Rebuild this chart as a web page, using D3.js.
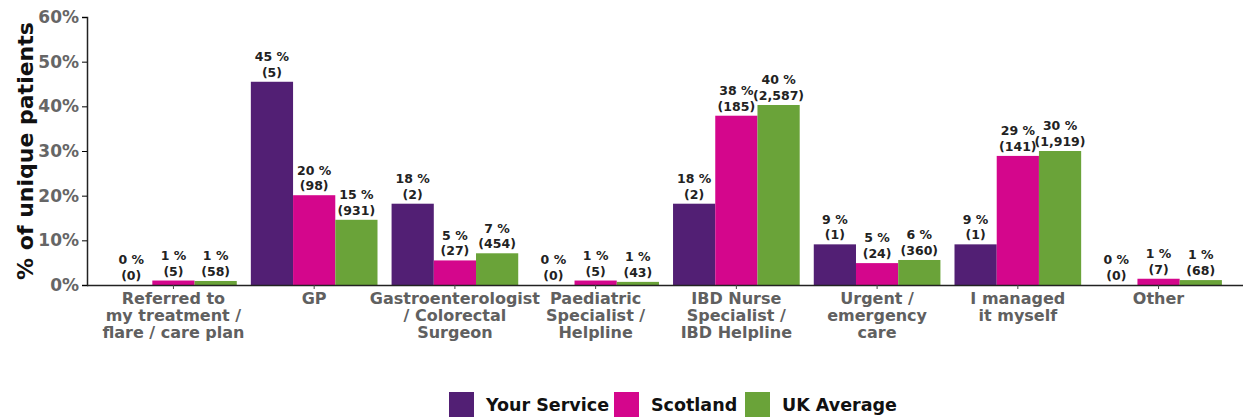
<!DOCTYPE html>
<html>
<head>
<meta charset="utf-8">
<script src="https://cdn.jsdelivr.net/npm/d3@7"></script>
<style>
  body { margin: 0; background: #fff; }
  text { font-family: "DejaVu Sans", sans-serif; font-weight: bold; }
</style>
</head>
<body>
<script>
// categories and series
var categories = [
  ["Referred to", "my treatment /", "flare / care plan"],
  ["GP"],
  ["Gastroenterologist", "/ Colorectal", "Surgeon"],
  ["Paediatric", "Specialist /", "Helpline"],
  ["IBD Nurse", "Specialist /", "IBD Helpline"],
  ["Urgent /", "emergency", "care"],
  ["I managed", "it myself"],
  ["Other"]
];
var seriesNames = ["Your Service", "Scotland", "UK Average"];
var seriesColors = ["#521f74", "#d4068c", "#6aa339"];

// bar heights (%)
var yourService = [0, 45.5, 18.2, 0, 18.2, 9.1, 9.1, 0];
var scotland = [1.0, 20.1, 5.5, 1.0, 37.9, 4.9, 28.9, 1.4];
var ukAverage = [0.9, 14.6, 7.1, 0.7, 40.3, 5.6, 30.0, 1.1];

// label percentages and counts
var yourServicePct = [0, 45, 18, 0, 18, 9, 9, 0];
var scotlandPct = [1, 20, 5, 1, 38, 5, 29, 1];
var ukAveragePct = [1, 15, 7, 1, 40, 6, 30, 1];
var yourServiceN = ["0", "5", "2", "0", "2", "1", "1", "0"];
var scotlandN = ["5", "98", "27", "5", "185", "24", "141", "7"];
var ukAverageN = ["58", "931", "454", "43", "2,587", "360", "1,919", "68"];

var yTicks = [0, 10, 20, 30, 40, 50, 60];

var values = [yourService, scotland, ukAverage];
var pcts = [yourServicePct, scotlandPct, ukAveragePct];
var counts = [yourServiceN, scotlandN, ukAverageN];

var width = 1243, height = 417;
var svg = d3.select("body").append("svg")
  .attr("width", width).attr("height", height);

var x = d3.scaleBand().domain(d3.range(categories.length))
  .range([89, 1243]).paddingInner(0.1).paddingOuter(0.15);
var xs = d3.scaleBand().domain(d3.range(3)).range([0, x.bandwidth()]);
var y = d3.scaleLinear().domain([0, 60]).range([285, 17]);

// bars
var groups = svg.selectAll("g.cat")
  .data(categories)
  .enter().append("g")
  .attr("class", "cat")
  .attr("transform", function(d, i) { return "translate(" + x(i) + ",0)"; });

groups.each(function(c, i) {
  var g = d3.select(this);
  for (var s = 0; s < 3; s++) {
    var v = values[s][i];
    g.append("rect")
      .attr("x", xs(s))
      .attr("y", y(v))
      .attr("width", xs.bandwidth())
      .attr("height", y(0) - y(v))
      .attr("fill", seriesColors[s]);
    var t = g.append("text")
      .attr("x", xs(s) + xs.bandwidth() / 2)
      .attr("y", y(v) - 5)
      .attr("text-anchor", "middle")
      .style("font-size", "12.5px")
      .attr("fill", "#222");
    t.append("tspan").attr("x", xs(s) + xs.bandwidth() / 2).attr("dy", "-1.25em")
      .text(pcts[s][i] + " %");
    t.append("tspan").attr("x", xs(s) + xs.bandwidth() / 2).attr("dy", "1.25em")
      .text("(" + counts[s][i] + ")");
  }
});

// x axis
var xAxis = svg.append("g")
  .attr("transform", "translate(0," + y(0) + ")")
  .call(d3.axisBottom(x).tickSize(4).tickFormat(""));
xAxis.select(".domain").attr("d", "M87,0.5H1243").attr("stroke", "#222").attr("stroke-width", 1.5);
xAxis.selectAll(".tick line").attr("stroke", "#444");

svg.append("g").selectAll("text")
  .data(categories)
  .enter().append("text")
  .attr("text-anchor", "middle")
  .attr("fill", "#606060")
  .style("font-size", "16px")
  .each(function(lines, i) {
    var t = d3.select(this);
    lines.forEach(function(l, j) {
      t.append("tspan")
        .attr("x", x(i) + x.bandwidth() / 2)
        .attr("y", 304 + j * 17)
        .text(l);
    });
  });

// y axis
var yAxis = svg.append("g")
  .attr("transform", "translate(87,0)")
  .call(d3.axisLeft(y).tickValues(yTicks).tickSize(5).tickFormat(function(d) { return d + "%"; }));
yAxis.select(".domain").attr("stroke", "#222").attr("stroke-width", 1.5);
yAxis.selectAll(".tick text").attr("fill", "#666").style("font-size", "17px")
  .style("font-family", "'DejaVu Sans', sans-serif").style("font-weight", "bold");

svg.append("text")
  .attr("transform", "translate(33," + ((y(0) + y(60)) / 2) + ") rotate(-90)")
  .attr("text-anchor", "middle")
  .style("font-size", "22px")
  .attr("fill", "#111")
  .text("% of unique patients");

// legend
var legendX = [449, 614, 745];
var legend = svg.append("g").selectAll("g")
  .data(seriesNames)
  .enter().append("g")
  .attr("transform", function(d, i) { return "translate(" + legendX[i] + ",392)"; });
legend.append("rect").attr("width", 25).attr("height", 25)
  .attr("fill", function(d, i) { return seriesColors[i]; });
legend.append("text").attr("x", 37).attr("y", 19)
  .style("font-size", "17.5px").attr("fill", "#111")
  .text(function(d) { return d; });
</script>
</body>
</html>
